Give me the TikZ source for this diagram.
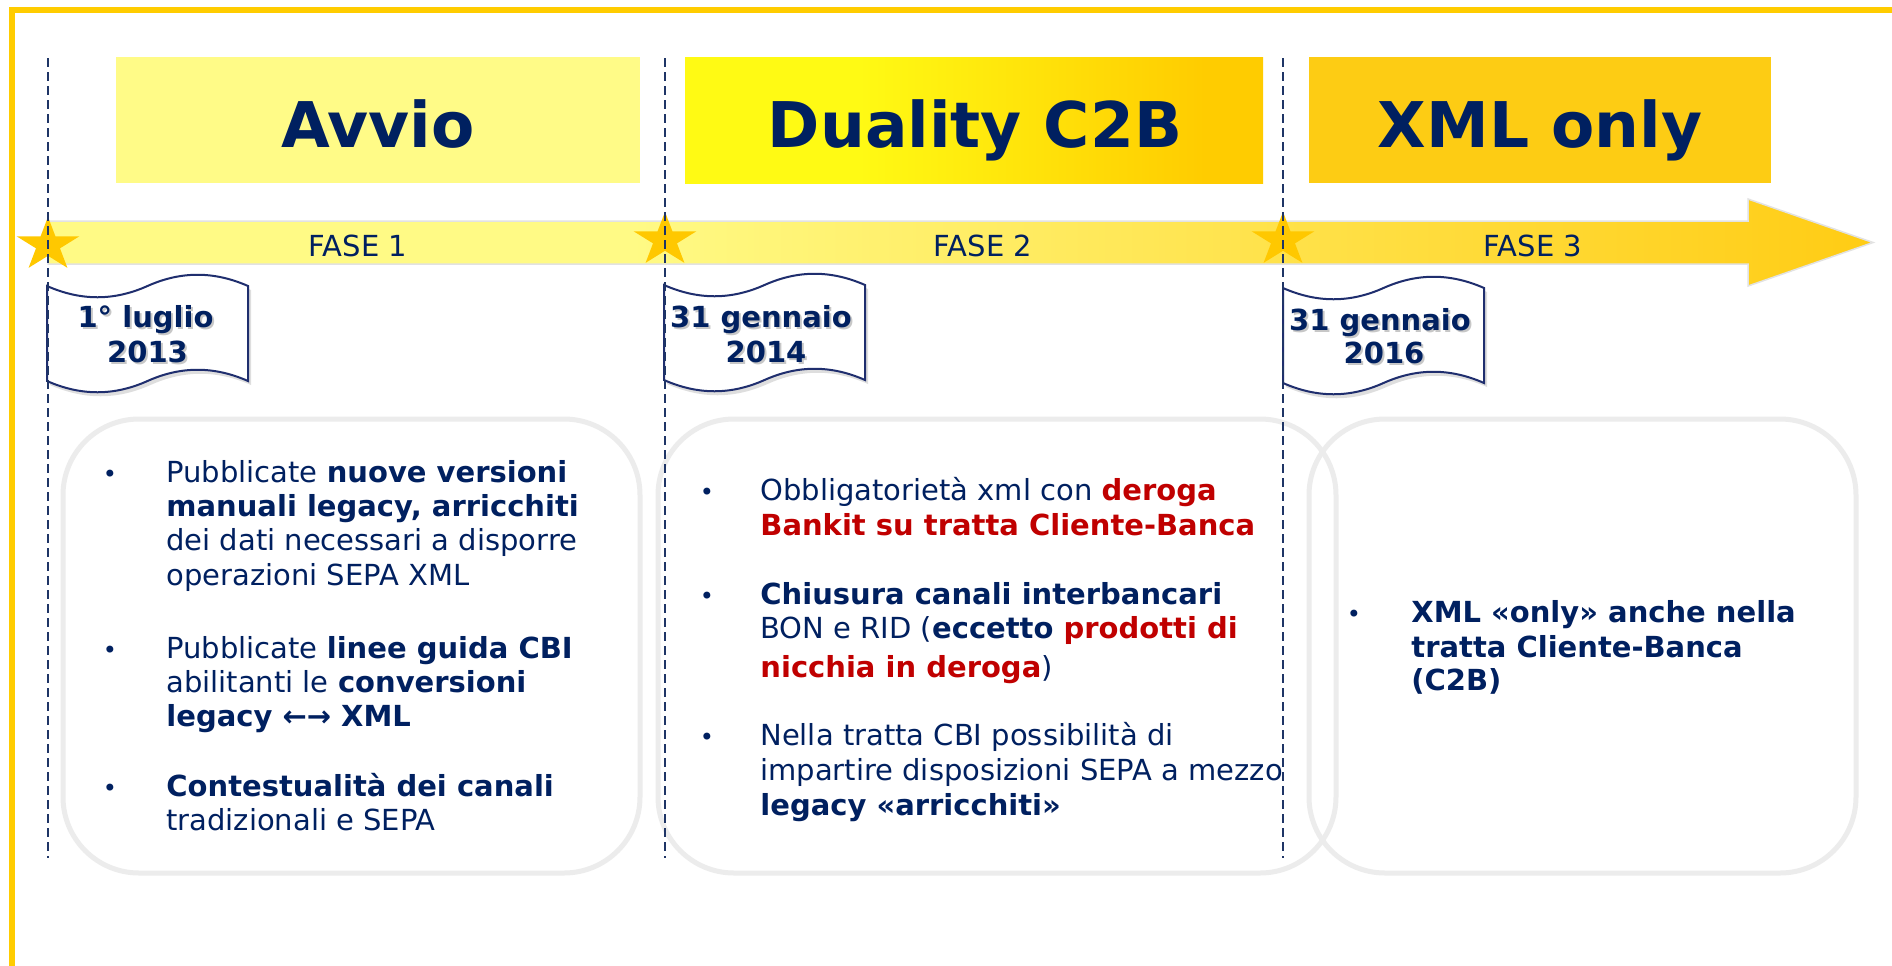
\documentclass[tikz,border=0pt]{standalone}
\usepackage{fontspec}
\setmainfont{DejaVu Sans}
\definecolor{navy}{HTML}{002060}
\definecolor{redc}{HTML}{C00000}
\definecolor{framec}{HTML}{FFCC00}
\definecolor{starc}{HTML}{FFC800}
\definecolor{avvioc}{HTML}{FFFB87}
\definecolor{xmlc}{HTML}{FDCC14}
\definecolor{dualL}{HTML}{FFFA14}
\definecolor{dualR}{HTML}{FFCC00}
\definecolor{bandL}{HTML}{FFFA85}
\definecolor{bandR}{HTML}{FFCC14}
\definecolor{bandedge}{HTML}{E2E2E2}
\definecolor{boxgray}{HTML}{ECECEC}
\definecolor{guidec}{HTML}{1F3566}
\definecolor{scrollc}{HTML}{1F2E6E}
\pgfdeclarehorizontalshading{bandshade}{100bp}{color(0bp)=(bandL); color(25bp)=(bandL); color(41bp)=(bandL); color(75bp)=(bandR); color(100bp)=(bandR)}
\pgfdeclarehorizontalshading{dualshade}{100bp}{color(0bp)=(dualL); color(25bp)=(dualL); color(40bp)=(dualL); color(70bp)=(dualR); color(100bp)=(dualR)}
\begin{document}
\begin{tikzpicture}[x=0.5pt,y=-0.5pt,
  hdrbox/.style={draw=none, inner sep=0pt, minimum height=63pt},
  hdrtxt/.style={anchor=base, inner sep=0pt, text=navy, font=\fontsize{31.5pt}{36pt}\selectfont\bfseries},
  fasetxt/.style={anchor=base, inner sep=0pt, text=navy, font=\fontsize{14.5pt}{17pt}\selectfont},
  datetxt/.style={anchor=base, inner sep=0pt, text=navy, font=\fontsize{14.5pt}{17pt}\selectfont\bfseries},
  dateshadow/.style={anchor=base, inner sep=0pt, text=black, opacity=0.22, font=\fontsize{14.5pt}{17pt}\selectfont\bfseries},
  bodytxt/.style={anchor=base west, inner sep=0pt, text=navy, font=\fontsize{14.5pt}{17pt}\selectfont},
  bul/.style={anchor=base, inner sep=0pt, text=navy, font=\fontsize{12pt}{14pt}\selectfont},
  roundbox/.style={draw=boxgray, line width=2.5pt, rounded corners=38pt, inner sep=0pt, minimum height=227pt},
  guide/.style={draw=guidec, line width=0.9pt, dash pattern=on 4.5pt off 2.5pt},
  wave/.pic={
    \begin{scope}[shift={(3,4)}]
      \fill[black, opacity=0.13] (0,0) .. controls (34,15) and (67,15) .. (100.5,0) .. controls (134,-15) and (167,-15) .. (201,0) -- (201,95) .. controls (167,80) and (134,80) .. (100.5,95) .. controls (67,110) and (34,110) .. (0,95) -- cycle;
    \end{scope}
    \draw[scrollc, line width=1pt, fill=white] (0,0) .. controls (34,15) and (67,15) .. (100.5,0) .. controls (134,-15) and (167,-15) .. (201,0) -- (201,95) .. controls (167,80) and (134,80) .. (100.5,95) .. controls (67,110) and (34,110) .. (0,95) -- cycle;
  },
  mystar/.pic={
    \fill[starc] (0,-28.2) -- (7.41,-8.74) -- (31.39,-8.71) -- (11.98,3.34) -- (19.40,22.81) -- (0,10.8) -- (-19.40,22.81) -- (-11.98,3.34) -- (-31.39,-8.71) -- (-7.41,-8.74) -- cycle;
  }
]
\useasboundingbox (0,0) rectangle (1892,965);
\fill[white] (0,0) rectangle (1892,965);
% frame
\draw[framec, line width=2.75pt] (12,10) rectangle (1960,1040);

% header boxes
\node[hdrbox, fill=avvioc, minimum width=262pt] (h1) at (378,120) {};
\node[hdrbox, shading=dualshade, minimum width=289pt] (h2) at (974,120) {};
\node[hdrbox, fill=xmlc, minimum width=231pt] (h3) at (1540,120) {};
\node[hdrtxt] (h1t) at (378,147) {Avvio};
\node[hdrtxt] (h2t) at (975,147) {Duality C2B};
\node[hdrtxt] (h3t) at (1540,147) {XML only};

% timeline arrow
\shadedraw[shading=bandshade, draw=bandedge, line width=0.75pt]
  (48,221) -- (1748,221) -- (1748,199) -- (1873,242.5) -- (1748,286) -- (1748,264) -- (48,264) -- cycle;
\node[fasetxt] (f1) at (358,256) {FASE 1};
\node[fasetxt] (f2) at (983,256) {FASE 2};
\node[fasetxt] (f3) at (1533,256) {FASE 3};

% stars
\pic (s1) at (48,245) {mystar};
\pic (s2) at (665,240) {mystar};
\pic (s3) at (1283,240) {mystar};

% scrolls
\pic (w1) at (47,286) {wave};
\pic (w2) at (664,285) {wave};
\pic (w3) at (1283,288) {wave};

% rounded boxes
\node[roundbox, minimum width=288.5pt] (b1) at (351.5,646) {};
\node[roundbox, minimum width=339pt] (b2) at (997,646) {};
\node[roundbox, minimum width=273.5pt] (b3) at (1582.5,646) {};

% guides
\coordinate (g1t) at (48,58);  \coordinate (g1b) at (48,858);
\coordinate (g2t) at (665,58); \coordinate (g2b) at (665,858);
\coordinate (g3t) at (1283,58); \coordinate (g3b) at (1283,858);
\draw[guide] (g1t) -- (g1b);
\draw[guide] (g2t) -- (g2b);
\draw[guide] (g3t) -- (g3b);

% dates
\node[dateshadow] (d1as) at (147.5,329.5) {1° luglio};
\node[dateshadow] (d1bs) at (149.5,364.5) {2013};
\node[datetxt] (d1a) at (145.5,327) {1° luglio};
\node[datetxt] (d1b) at (147.5,362) {2013};
\node[dateshadow] (d2as) at (763,329.5) {31 gennaio};
\node[dateshadow] (d2bs) at (768,364.5) {2014};
\node[datetxt] (d2a) at (761,327) {31 gennaio};
\node[datetxt] (d2b) at (766,362) {2014};
\node[dateshadow] (d3as) at (1382,332.5) {31 gennaio};
\node[dateshadow] (d3bs) at (1386,365.5) {2016};
\node[datetxt] (d3a) at (1380,330) {31 gennaio};
\node[datetxt] (d3b) at (1384,363) {2016};

% box 1 text
\node[bul] (u1a) at (110,482) {•};
\node[bul] (u1b) at (110,658) {•};
\node[bul] (u1c) at (110,796) {•};
\node[bodytxt] (t1a) at (166,482) {Pubblicate \textbf{nuove versioni}};
\node[bodytxt] (t1b) at (166,516) {\textbf{manuali legacy, arricchiti}};
\node[bodytxt] (t1c) at (166,550) {dei dati necessari a disporre};
\node[bodytxt] (t1d) at (166,585) {operazioni SEPA XML};
\node[bodytxt] (t1e) at (166,658) {Pubblicate \textbf{linee guida CBI}};
\node[bodytxt] (t1f) at (166,692) {abilitanti le \textbf{conversioni}};
\node[bodytxt] (t1g) at (166,726) {\textbf{legacy ←→ XML}};
\node[bodytxt] (t1h) at (166,796) {\textbf{Contestualità dei canali}};
\node[bodytxt] (t1i) at (166,830) {tradizionali e SEPA};

% box 2 text
\node[bul] (u2a) at (707,500) {•};
\node[bul] (u2b) at (707,604) {•};
\node[bul] (u2c) at (707,745) {•};
\node[bodytxt] (t2a) at (760,500) {Obbligatorietà xml con \textbf{\textcolor{redc}{deroga}}};
\node[bodytxt] (t2b) at (760,535) {\textbf{\textcolor{redc}{Bankit su tratta Cliente-Banca}}};
\node[bodytxt] (t2c) at (760,604) {\textbf{Chiusura canali interbancari}};
\node[bodytxt] (t2d) at (760,638) {BON e RID (\textbf{eccetto \textcolor{redc}{prodotti di}}};
\node[bodytxt] (t2e) at (760,677) {\textbf{\textcolor{redc}{nicchia in deroga}})};
\node[bodytxt] (t2f) at (760,745) {Nella tratta CBI possibilità di};
\node[bodytxt] (t2g) at (760,780) {impartire disposizioni SEPA a mezzo};
\node[bodytxt] (t2h) at (760,815) {\textbf{legacy «arricchiti»}};

% box 3 text
\node[bul] (u3a) at (1354,622) {•};
\node[bodytxt] (t3a) at (1411,622) {\textbf{XML «only» anche nella}};
\node[bodytxt] (t3b) at (1411,657) {\textbf{tratta Cliente-Banca}};
\node[bodytxt] (t3c) at (1411,690) {\textbf{(C2B)}};
\end{tikzpicture}
\end{document}
